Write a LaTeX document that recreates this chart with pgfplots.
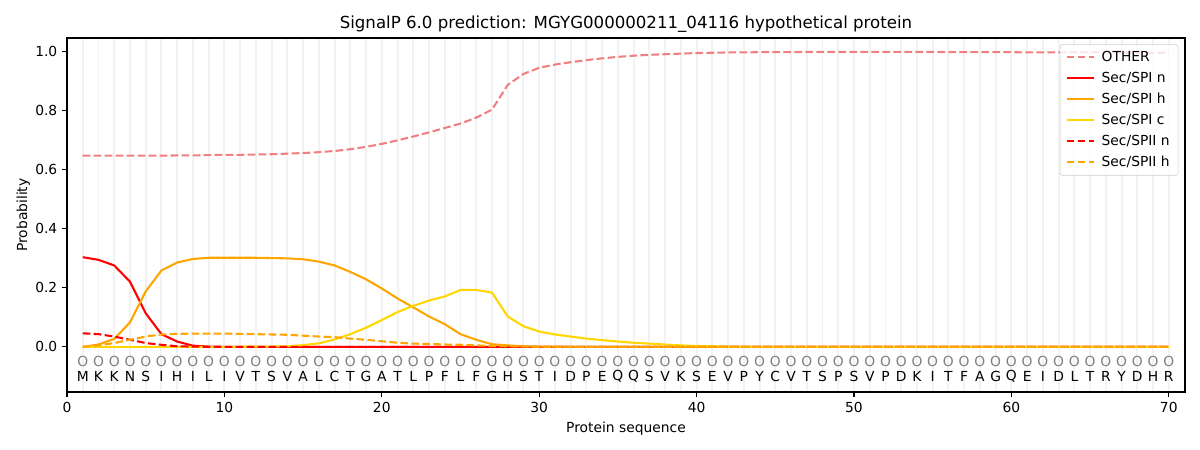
\documentclass[border=0pt]{standalone}
\usepackage{pgfplots}
\pgfplotsset{compat=1.18}
\usepackage{pgfplotstable}
\usepackage{fontspec}
\setmainfont{DejaVu Sans}
\definecolor{lightcoral}{RGB}{240,128,128}
\definecolor{mplorange}{RGB}{255,165,0}
\definecolor{mplgold}{RGB}{255,215,0}
\definecolor{gridgray}{RGB}{242,242,242}
\definecolor{legframe}{RGB}{204,204,204}

\pgfplotstableread{
x other spin spih spic spiin spiih res
1 0.648 0.304 0.000 0.000 0.046 0.000 M
2 0.648 0.295 0.008 0.000 0.043 0.005 K
3 0.648 0.276 0.027 0.000 0.035 0.013 K
4 0.648 0.221 0.083 0.000 0.024 0.024 N
5 0.648 0.114 0.188 0.000 0.013 0.035 S
6 0.648 0.043 0.259 0.000 0.007 0.042 I
7 0.649 0.018 0.286 0.000 0.002 0.044 H
8 0.649 0.004 0.298 0.000 0.001 0.045 I
9 0.650 0.001 0.302 0.000 0.000 0.045 L
10 0.651 0.000 0.302 0.000 0.000 0.045 I
11 0.651 0.000 0.302 0.000 0.000 0.044 V
12 0.652 0.000 0.302 0.001 0.000 0.043 T
13 0.653 0.000 0.301 0.001 0.000 0.042 S
14 0.655 0.000 0.300 0.002 0.000 0.041 V
15 0.657 0.000 0.297 0.006 0.000 0.038 A
16 0.660 0.000 0.289 0.012 0.000 0.035 L
17 0.664 0.000 0.276 0.025 0.000 0.033 C
18 0.670 0.000 0.254 0.043 0.000 0.028 T
19 0.678 0.000 0.229 0.065 0.000 0.024 G
20 0.688 0.000 0.198 0.091 0.000 0.019 A
21 0.700 0.000 0.164 0.118 0.000 0.014 T
22 0.713 0.000 0.134 0.139 0.000 0.011 L
23 0.727 0.000 0.103 0.157 0.000 0.010 P
24 0.742 0.000 0.077 0.171 0.000 0.008 F
25 0.757 0.000 0.043 0.193 0.000 0.007 L
26 0.777 0.000 0.024 0.193 0.000 0.005 F
27 0.804 0.000 0.009 0.184 0.000 0.003 G
28 0.888 0.000 0.005 0.103 0.000 0.002 H
29 0.925 0.000 0.002 0.070 0.000 0.001 S
30 0.946 0.000 0.001 0.052 0.000 0.000 T
31 0.957 0.000 0.001 0.042 0.000 0.000 I
32 0.965 0.000 0.000 0.035 0.000 0.000 D
33 0.972 0.000 0.000 0.028 0.000 0.000 P
34 0.978 0.000 0.000 0.023 0.000 0.000 E
35 0.983 0.000 0.000 0.018 0.000 0.000 Q
36 0.987 0.000 0.000 0.014 0.000 0.000 Q
37 0.990 0.000 0.000 0.011 0.000 0.000 S
38 0.992 0.000 0.000 0.008 0.000 0.000 V
39 0.994 0.000 0.000 0.005 0.000 0.000 K
40 0.996 0.000 0.000 0.003 0.000 0.000 S
41 0.997 0.000 0.000 0.002 0.000 0.000 E
42 0.998 0.000 0.000 0.001 0.000 0.000 V
43 0.998 0.000 0.000 0.000 0.000 0.000 P
44 0.999 0.000 0.000 0.000 0.000 0.000 Y
45 0.999 0.000 0.000 0.000 0.000 0.000 C
46 0.999 0.000 0.000 0.000 0.000 0.000 V
47 1.000 0.000 0.000 0.000 0.000 0.000 T
48 1.000 0.000 0.000 0.000 0.000 0.000 S
49 1.000 0.000 0.000 0.000 0.000 0.000 P
50 1.000 0.000 0.000 0.000 0.000 0.000 S
51 1.000 0.000 0.000 0.000 0.000 0.000 V
52 1.000 0.000 0.000 0.000 0.000 0.000 P
53 1.000 0.000 0.000 0.000 0.000 0.000 D
54 1.000 0.000 0.000 0.000 0.000 0.000 K
55 1.000 0.000 0.000 0.000 0.000 0.000 I
56 0.999 0.000 0.000 0.000 0.000 0.000 T
57 0.999 0.000 0.000 0.000 0.000 0.000 F
58 0.999 0.000 0.000 0.000 0.000 0.000 A
59 0.999 0.000 0.000 0.000 0.000 0.000 G
60 0.999 0.000 0.000 0.000 0.000 0.000 Q
61 0.998 0.000 0.000 0.000 0.000 0.000 E
62 0.998 0.000 0.000 0.000 0.000 0.000 I
63 0.998 0.000 0.000 0.000 0.000 0.000 D
64 0.998 0.000 0.000 0.000 0.000 0.000 L
65 0.998 0.000 0.000 0.000 0.000 0.000 T
66 0.998 0.000 0.000 0.000 0.000 0.000 R
67 0.997 0.000 0.000 0.000 0.000 0.000 Y
68 0.997 0.000 0.000 0.000 0.000 0.000 D
69 0.997 0.000 0.000 0.000 0.000 0.000 H
70 0.997 0.000 0.000 0.000 0.000 0.000 R
}\data

\begin{document}
\begin{tikzpicture}
\path[use as bounding box] (-0.67in,-0.58in) rectangle (11.33in,3.92in);
\begin{axis}[
  at={(0,0)}, anchor=south west,
  scale only axis,
  width=11.18in, height=3.54in,
  xmin=0, xmax=71.03,
  ymin=-0.153, ymax=1.047,
  xtick={0,10,...,70},
  ytick={0,0.2,...,1.0},
  yticklabel style={/pgf/number format/.cd, fixed, fixed zerofill, precision=1},
  /pgf/number format/assume math mode=true,
  minor xtick={1,...,70},
  xminorgrids=true,
  minor grid style={gridgray, line width=1.4pt},
  minor tick length=0pt,
  tick align=outside,
  major tick length=3.5pt,
  xtick pos=bottom, ytick pos=left,
  tick style={black, line width=0.8pt},
  axis line style={line width=0.8pt},
  ticklabel style={font=\fontsize{10}{12}\selectfont},
  label style={font=\fontsize{10}{12}\selectfont},
  xlabel={Protein sequence},
  ylabel={Probability},
  ylabel style={yshift=-3pt},
  title={SignalP 6.0 prediction: MGYG000000211\_04116 hypothetical protein},
  title style={font=\fontsize{12}{14}\selectfont, yshift=-5.5pt},
  legend cell align=left,
  legend style={at={(0.994,0.983)}, anchor=north east, draw=legframe, rounded corners=2pt,
    font=\fontsize{10}{12}\selectfont, fill=white, fill opacity=0.8, text opacity=1,
    row sep=2.2pt, column sep=2.5pt, inner xsep=4pt, inner ysep=3pt},
  legend image code/.code={\draw[#1] (0pt,0pt) -- (20pt,0pt);},
]
\addplot[lightcoral, line width=1.5pt, dash pattern=on 5.55pt off 2.4pt] table[x=x, y=other] {\data};
\addlegendentry{OTHER}
\addplot[red, line width=1.5pt] table[x=x, y=spin] {\data};
\addlegendentry{Sec/SPI n}
\addplot[mplorange, line width=1.5pt] table[x=x, y=spih] {\data};
\addlegendentry{Sec/SPI h}
\addplot[mplgold, line width=1.5pt] table[x=x, y=spic] {\data};
\addlegendentry{Sec/SPI c}
\addplot[red, line width=1.5pt, dash pattern=on 5.55pt off 2.4pt] table[x=x, y=spiin] {\data};
\addlegendentry{Sec/SPII n}
\addplot[mplorange, line width=1.5pt, dash pattern=on 5.55pt off 2.4pt] table[x=x, y=spiih] {\data};
\addlegendentry{Sec/SPII h}
\addplot[draw=none, mark=none, forget plot,
  nodes near coords={O}, point meta=explicit symbolic,
  every node near coord/.append style={anchor=center, text=gray, inner sep=0pt, font=\fontsize{10}{12}\selectfont}]
  table[x=x, y expr=-0.05, meta=res] {\data};
\addplot[draw=none, mark=none, forget plot,
  nodes near coords, point meta=explicit symbolic,
  every node near coord/.append style={anchor=center, text=black, inner sep=0pt, font=\fontsize{10}{12}\selectfont}]
  table[x=x, y expr=-0.1, meta=res] {\data};
\end{axis}
\end{tikzpicture}
\end{document}
